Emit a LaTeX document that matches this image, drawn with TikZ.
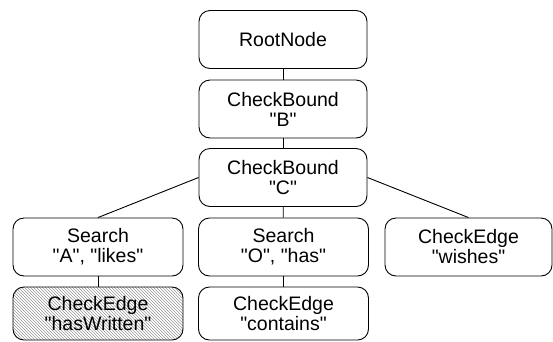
\documentclass[tikz,border=0pt]{standalone}
\usepackage{fontspec}
\setmainfont{Liberation Sans}[Ligatures=TeXOff]
\usetikzlibrary{patterns}
\begin{document}
\begin{tikzpicture}[x=1pt,y=-1pt,
  box/.style={draw, line width=0.9pt, rounded corners=11pt, minimum width=168pt, minimum height=58pt, inner sep=0pt, align=center, font=\fontsize{19.5}{20}\selectfont},
  hatched/.style={pattern=north west lines, pattern color=gray!80},
  link/.style={line width=0.9pt}]
\useasboundingbox (0,0) rectangle (553,341);
\node[box] (root) at (283,39.5) {RootNode};
\node[box] (b) at (283,109) {CheckBound\\"B"};
\node[box] (c) at (283,177.5) {CheckBound\\"C"};
\node[box, minimum width=170pt] (sa) at (98,247) {Search\\"A", "likes"};
\node[box, minimum width=170pt] (so) at (283.5,247) {Search\\"O", "has"};
\node[box, minimum width=167pt] (w) at (468.5,247) {CheckEdge\\"wishes"};
\node[box, minimum width=170pt, minimum height=53pt, hatched] (hw) at (98,313.5) {CheckEdge\\"hasWritten"};
\node[box, minimum width=170pt, minimum height=53pt] (ct) at (283.5,313.5) {CheckEdge\\"contains"};
\draw[link] (root) -- (b);
\draw[link] (b) -- (c);
\draw[link] (c.west) -- (sa.north);
\draw[link] (c) -- (so);
\draw[link] (c.east) -- (w.north);
\draw[link] (sa) -- (hw);
\draw[link] (so) -- (ct);
\end{tikzpicture}
\end{document}
